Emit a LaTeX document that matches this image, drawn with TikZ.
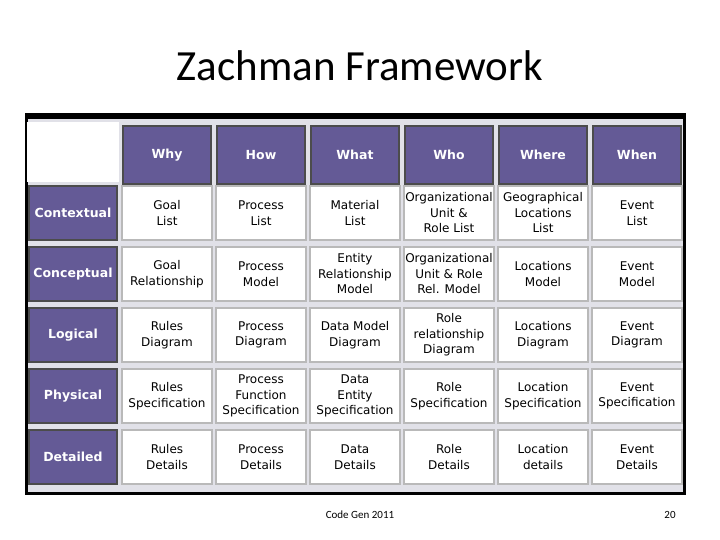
\documentclass[tikz,border=0pt]{standalone}
\usepackage{fontspec}
\setmainfont{DejaVu Sans}
\newfontfamily\calib{Carlito}
\begin{document}
\begin{tikzpicture}[x=1pt,y=-1pt,
  hdr/.style={draw=gray!60!black,line width=1.2pt,fill={rgb,255:red,100;green,90;blue,150},text=white,minimum width=88pt,minimum height=58pt,font=\fontsize{12.5}{14}\selectfont\bfseries,align=center,inner sep=0pt},
  rhdr/.style={hdr,minimum width=88pt,minimum height=54pt,font=\fontsize{12.5}{14}\selectfont\bfseries},
  cell/.style={draw=gray!55,line width=1.2pt,fill=white,minimum width=90pt,minimum height=54pt,font=\fontsize{12}{15.5}\selectfont,align=center,inner sep=0pt}]
\useasboundingbox (0,0) rectangle (720,540);
\node[font=\calib\fontsize{43}{48}\selectfont] (title) at (360,66) {Zachman Framework};
\node[fill=black,minimum width=661pt,minimum height=382pt,inner sep=0pt] (frame) at (355.5,304) {};
\node[fill={rgb,255:red,225;green,225;blue,232},minimum width=655pt,minimum height=373pt,inner sep=0pt] (bg) at (355.5,305.5) {};
\node[fill=white,minimum width=92pt,minimum height=60pt,inner sep=0pt] (corner) at (73,152) {};
\foreach \t [count=\i] in {Why,How,What,Who,Where,When}
  \node[hdr] (h\i) at ({167+94*(\i-1)},155) {\t};
\foreach \t [count=\j] in {Contextual,Conceptual,Logical,Physical,Detailed}
  \node[rhdr] (r\j) at (73,{213+61*(\j-1)}) {\t};
\foreach \row [count=\j] in {
 {{Goal\\List},{Process\\List},{Material\\List},{Organizational\\Unit \&\\Role List},{Geographical\\Locations\\List},{Event\\List}},
 {{Goal\\Relationship},{Process\\Model},{Entity\\Relationship\\Model},{Organizational\\Unit \& Role\\Rel. Model},{Locations\\Model},{Event\\Model}},
 {{Rules\\Diagram},{Process\\Diagram},{Data Model\\Diagram},{Role\\relationship\\Diagram},{Locations\\Diagram},{Event\\Diagram}},
 {{Rules\\Specification},{Process\\Function\\Specification},{Data\\Entity\\Specification},{Role\\Specification},{Location\\Specification},{Event\\Specification}},
 {{Rules\\Details},{Process\\Details},{Data\\Details},{Role\\Details},{Location\\details},{Event\\Details}}}
 \foreach \t [count=\i] in \row
   \node[cell] (c\j\i) at ({167+94*(\i-1)},{213+61*(\j-1)}) {\t};
\node[font=\calib\fontsize{11}{12}\selectfont] (foot) at (360,515) {Code Gen 2011};
\node[font=\calib\fontsize{11}{12}\selectfont] (pg) at (670,515) {20};
\end{tikzpicture}
\end{document}
